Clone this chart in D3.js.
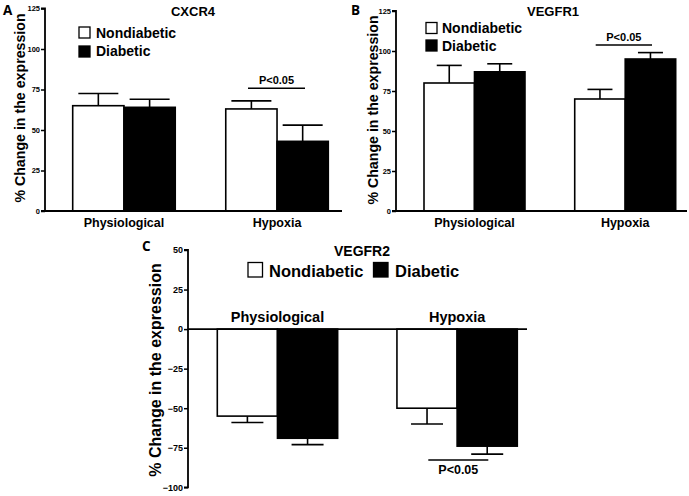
<!DOCTYPE html>
<html>
<head>
<meta charset="utf-8">
<script src="https://cdn.jsdelivr.net/npm/d3@7/dist/d3.min.js"></script>
<style>
  html, body { margin: 0; padding: 0; background: #fff; }
  svg { display: block; font-family: "Liberation Sans", Arial, sans-serif; font-weight: bold; }
</style>
</head>
<body>
<svg id="chart" width="689" height="496"></svg>
<script>
// ---- data ----
const categories = ["Physiological", "Hypoxia"];
const seriesNames = ["Nondiabetic", "Diabetic"];

const cxcr4Nondiabetic = [65, 63];
const cxcr4NondiabeticErr = [7.5, 5];
const cxcr4Diabetic = [64, 43];
const cxcr4DiabeticErr = [5, 10];

const vegfr1Nondiabetic = [80, 70];
const vegfr1NondiabeticErr = [11, 6];
const vegfr1Diabetic = [87, 95];
const vegfr1DiabeticErr = [5, 4];

const vegfr2Nondiabetic = [-55, -50];
const vegfr2NondiabeticErr = [4, 10];
const vegfr2Diabetic = [-69, -74];
const vegfr2DiabeticErr = [4, 5];

const ticksAB = [0, 25, 50, 75, 100, 125];
const ticksC = [-100, -75, -50, -25, 0, 25, 50];

const yTitle = "% Change in the expression";
const sigLabel = "P<0.05";

const svg = d3.select("#chart");

function drawPanel(cfg) {
  const g = svg.append("g");
  const y = d3.scaleLinear().domain(cfg.yDomain).range(cfg.yRange);
  const x0 = d3.scaleBand().domain(categories).range(cfg.barRange).paddingInner(cfg.padInner).paddingOuter(0);
  const x1 = d3.scaleBand().domain(seriesNames).range([0, x0.bandwidth()]).padding(0);

  const rows = [];
  categories.forEach((c, i) => {
    rows.push({cat: c, s: seriesNames[0], v: cfg.nd[i], e: cfg.ndErr[i]});
    rows.push({cat: c, s: seriesNames[1], v: cfg.d[i], e: cfg.dErr[i]});
  });
  const fill = s => s === seriesNames[0] ? "#fff" : "#000";
  const bx = r => x0(r.cat) + x1(r.s);
  const cx = r => bx(r) + x1.bandwidth() / 2;

  // error bars (behind bars)
  rows.forEach(r => {
    const sign = r.v >= 0 ? 1 : -1;
    const yEnd = y(r.v + sign * r.e);
    g.append("line").attr("x1", cx(r)).attr("x2", cx(r)).attr("y1", y(r.v)).attr("y2", yEnd)
      .attr("stroke", "#000").attr("stroke-width", 1.6);
    g.append("line").attr("x1", cx(r) - cfg.cap / 2).attr("x2", cx(r) + cfg.cap / 2)
      .attr("y1", yEnd).attr("y2", yEnd).attr("stroke", "#000").attr("stroke-width", 1.6);
  });

  // bars
  g.selectAll("rect.bar").data(rows).enter().append("rect")
    .attr("x", bx)
    .attr("y", r => Math.min(y(r.v), y(0)))
    .attr("width", x1.bandwidth())
    .attr("height", r => Math.abs(y(r.v) - y(0)))
    .attr("fill", r => fill(r.s))
    .attr("stroke", "#000").attr("stroke-width", 1.6);

  // y axis
  const yAxis = d3.axisLeft(y).tickValues(cfg.ticks).tickSize(4).tickPadding(1).tickFormat(d3.format("d"));
  const ya = g.append("g").attr("transform", `translate(${cfg.axisX},0)`).call(yAxis);
  ya.select(".domain").attr("stroke", "#000").attr("stroke-width", 1.8).attr("d", `M-4,${y(cfg.yDomain[1])}H0V${y(cfg.yDomain[0])}H-4`);
  ya.selectAll(".tick line").attr("stroke", "#000").attr("stroke-width", 1.5);
  ya.selectAll(".tick text").attr("font-size", cfg.tickFont).attr("font-weight", "bold")
    .attr("font-family", "Liberation Sans, Arial, sans-serif").attr("fill", "#000");

  // zero / x axis line
  g.append("line").attr("x1", cfg.axisX).attr("x2", cfg.axisEnd).attr("y1", y(0)).attr("y2", y(0))
    .attr("stroke", "#000").attr("stroke-width", 1.8);

  // category labels
  categories.forEach(c => {
    g.append("text").attr("x", x0(c) + x0.bandwidth() / 2).attr("y", cfg.catY)
      .attr("text-anchor", "middle").attr("font-size", cfg.catFont).text(c);
  });

  // title
  g.append("text").attr("x", cfg.titleX).attr("y", cfg.titleY).attr("text-anchor", "middle")
    .attr("font-size", cfg.titleFont).text(cfg.title);

  // panel letter
  g.append("text").attr("x", cfg.letterX).attr("y", cfg.letterY).attr("font-size", 13.5)
    .attr("font-family", "Open Sans, Liberation Sans, sans-serif").text(cfg.letter);

  // y title
  g.append("text").attr("transform", `translate(${cfg.yTitleX},${cfg.yTitleY}) rotate(-90)`)
    .attr("text-anchor", "middle").attr("font-size", cfg.yTitleFont).text(yTitle);

  // legend
  cfg.legend.forEach((L, i) => {
    g.append("rect").attr("x", L.x).attr("y", L.y).attr("width", cfg.legSq).attr("height", cfg.legSq)
      .attr("fill", fill(seriesNames[i])).attr("stroke", "#000").attr("stroke-width", 1.3);
    g.append("text").attr("x", L.tx).attr("y", L.ty).attr("font-size", cfg.legFont).text(seriesNames[i]);
  });

  // significance
  const s = cfg.sig;
  g.append("line").attr("x1", s.x1).attr("x2", s.x2).attr("y1", s.y).attr("y2", s.y)
    .attr("stroke", "#000").attr("stroke-width", 1.5);
  g.append("text").attr("x", (s.x1 + s.x2) / 2).attr("y", s.ty).attr("text-anchor", "middle")
    .attr("font-size", s.font).text(sigLabel);
}

drawPanel({
  letter: "A", letterX: 3, letterY: 15,
  title: "CXCR4", titleX: 193, titleY: 16, titleFont: 13,
  nd: cxcr4Nondiabetic, ndErr: cxcr4NondiabeticErr, d: cxcr4Diabetic, dErr: cxcr4DiabeticErr,
  yDomain: [0, 125], yRange: [211, 8.5], ticks: ticksAB, tickFont: 7.5,
  axisX: 45, axisEnd: 342, barRange: [72.7, 328.3], padInner: 0.33, cap: 40,
  catY: 227, catFont: 12.5,
  yTitleX: 25, yTitleY: 108, yTitleFont: 14.2,
  legSq: 11, legFont: 14,
  legend: [{x: 79, y: 27, tx: 96, ty: 37.5}, {x: 79, y: 46, tx: 96, ty: 56}],
  sig: {x1: 248, x2: 305, y: 88.3, ty: 84, font: 11}
});

drawPanel({
  letter: "B", letterX: 351, letterY: 15,
  title: "VEGFR1", titleX: 553, titleY: 16, titleFont: 13,
  nd: vegfr1Nondiabetic, ndErr: vegfr1NondiabeticErr, d: vegfr1Diabetic, dErr: vegfr1DiabeticErr,
  yDomain: [0, 125], yRange: [211, 11], ticks: ticksAB, tickFont: 7.5,
  axisX: 396, axisEnd: 687, barRange: [424, 675.7], padInner: 0.33, cap: 25,
  catY: 227, catFont: 12.5,
  yTitleX: 378, yTitleY: 110, yTitleFont: 14.2,
  legSq: 11, legFont: 14,
  legend: [{x: 426, y: 22.5, tx: 442, ty: 33}, {x: 426, y: 40, tx: 442, ty: 50.5}],
  sig: {x1: 595.7, x2: 652, y: 45, ty: 41, font: 11}
});

drawPanel({
  letter: "C", letterX: 142, letterY: 251,
  title: "VEGFR2", titleX: 362, titleY: 256, titleFont: 14,
  nd: vegfr2Nondiabetic, ndErr: vegfr2NondiabeticErr, d: vegfr2Diabetic, dErr: vegfr2DiabeticErr,
  yDomain: [-100, 50], yRange: [487.3, 250], ticks: ticksC, tickFont: 9,
  axisX: 188, axisEnd: 527, barRange: [217.3, 517.3], padInner: 0.33, cap: 32,
  catY: 322, catFont: 14.5,
  yTitleX: 161, yTitleY: 370, yTitleFont: 16,
  legSq: 14.5, legFont: 16.5,
  legend: [{x: 248, y: 262.5, tx: 269, ty: 276.5}, {x: 373.5, y: 262.5, tx: 395, ty: 276.5}],
  sig: {x1: 428.3, x2: 488.3, y: 460, ty: 474, font: 12.5}
});
</script>
</body>
</html>
